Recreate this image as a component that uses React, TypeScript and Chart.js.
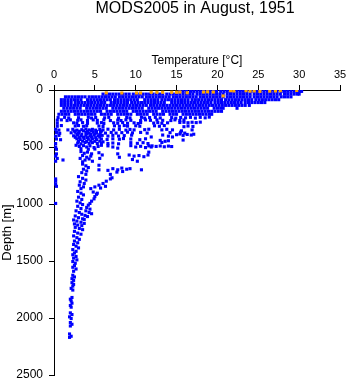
import { useEffect, useRef } from "react";
import { Chart, registerables } from "chart.js";

Chart.register(...registerables);

const TITLE = "MODS2005 in August, 1951";
const X_TITLE = "Temperature [°C]";
const Y_TITLE = "Depth [m]";
const X_MIN = 0;
const X_MAX = 35;
const X_STEP = 5;
const Y_MIN = 0;
const Y_MAX = 2500;
const Y_STEP = 500;

// Dense near-surface band: one depth per row, temperatures read along the row
const bandDepths = [12, 36, 60, 85, 110, 135, 160, 187, 213];
const bandTemps: number[][] = [
  [15.4,15.8,16.2,16.7,17.1,17.5,17.9,18.3,18.7,19.1,19.5,19.9,20.4,20.8,21.2,21.6,22.0,22.4,22.8,23.2,23.6,24.1,24.5,24.9,25.3,25.7,26.1,26.5,26.9,27.3,27.8,28.2,28.6,29.0,29.4,29.8,30.1,30.3],
  [6.0,6.4,6.8,7.2,7.6,8.0,8.4,8.8,9.2,9.7,10.1,10.5,10.9,11.3,11.7,12.1,12.5,12.9,13.3,13.8,14.2,14.6,15.0,15.4,15.8,16.2,16.6,17.0,17.5,17.9,18.3,18.7,19.1,19.5,19.9,20.3,20.7,21.2,21.6,22.0,22.4,22.8,23.2,23.6,24.0,24.5,24.9,25.3,25.7,26.1,26.5,26.9,27.3,27.7,28.2,28.6,29.0,29.4,29.8,30.0],
  [1.4,1.8,2.2,2.6,3.0,3.4,3.8,4.3,4.7,5.1,5.5,5.9,6.3,6.7,7.1,7.5,8.0,8.4,8.8,9.2,9.6,10.0,10.4,10.8,11.3,11.7,12.1,12.5,12.9,13.3,13.7,14.1,14.6,15.0,15.4,15.8,16.2,16.6,17.0,17.4,17.9,18.3,18.7,19.1,19.5,19.9,20.3,20.7,21.2,21.6,22.0,22.4,22.8,23.2,23.6,24.0,24.5,24.9,25.3,25.7,26.1,26.5,26.9,27.3,27.8,28.2,28.6,29.0],
  [0.9,1.3,1.7,2.1,2.5,2.9,3.3,4.1,4.5,4.9,5.3,5.7,6.1,6.5,6.9,7.4,7.8,8.2,8.6,9.0,9.4,9.8,10.2,11.1,11.5,11.9,12.3,12.7,13.2,13.6,14.0,14.4,14.8,15.2,15.6,16.0,16.4,16.9,17.3,17.7,18.1,18.5,18.9,19.3,19.7,20.1,20.5,21.0,21.4,21.8,22.2,22.6,23.0,23.4,23.8,24.2,24.7,25.1,25.5,25.9,26.3,26.7,27.1,27.5],
  [0.9,1.3,1.7,2.1,2.6,3.0,3.4,3.8,4.2,4.6,5.0,5.4,5.8,6.2,7.0,7.4,7.8,8.2,8.6,9.0,9.5,9.9,10.3,10.7,11.1,11.5,11.9,12.3,12.7,13.1,13.5,14.4,14.8,15.2,15.6,16.0,16.4,16.8,17.2,17.6,18.0,18.4,18.8,19.2,19.7,20.1,20.5,20.9,21.3,21.7,22.1,22.5,22.9,23.4,23.8,24.2,24.6,25.0,25.4,25.8],
  [0.9,1.3,1.7,2.1,2.5,2.9,3.3,3.7,4.1,4.5,4.9,5.3,5.7,6.1,6.5,6.9,7.3,7.7,8.1,8.5,8.9,9.3,9.7,10.1,10.5,10.9,11.3,11.8,12.2,12.6,13.0,13.4,13.8,14.2,14.6,15.0,15.4,15.8,16.2,16.6,17.0,17.4,17.8,18.2,18.6,19.0,19.4,19.8,20.2,20.6,21.0,21.4,21.8,22.2,22.6,23.0,23.4,23.9],
  [1.2,1.6,2.0,2.4,2.8,3.2,4.0,4.4,4.8,5.2,5.6,6.0,6.4,7.2,7.6,8.0,8.4,8.8,9.2,9.6,10.0,10.4,10.8,11.6,12.0,12.4,12.8,13.2,13.6,14.0,14.4,14.8,15.2,15.6,16.0,16.4,16.8,17.2,17.6,18.0,18.4,18.8,19.6,20.0,20.4,20.7,22.4],
  [0.9,1.3,1.7,2.1,2.5,2.9,3.3,3.7,4.1,4.5,4.9,5.3,5.7,6.5,6.9,7.3,7.7,8.1,8.5,8.9,9.7,10.1,10.5,10.9,11.3,11.7,12.1,12.5,13.3,13.7,14.1,14.5,14.9,15.3,15.7,16.1,16.5,16.9,17.3,17.7,18.1,18.5,18.9,19.3,19.7,20.1,20.5],
  [0.6,1.0,1.4,1.8,2.6,3.0,3.4,3.8,4.2,4.6,5.0,5.8,6.2,6.6,7.0,7.8,8.2,8.6,9.0,9.4,10.2,10.6,11.0,11.4,12.2,12.6,13.0,13.4,14.2,14.6,15.0,15.8,16.2,16.6,17.0,17.4,17.8,18.2,18.6,19.0,19.3],
];

// [temperature, depth] pairs, 235-500 m
const midLayer: [number, number][] = [
  [0.5,242],[1.3,240],[1.8,245],[3.0,243],[4.2,240],[4.6,246],[5.1,241],[6.2,244],[6.7,240],[7.9,246],[8.9,241],[9.3,245],[10.7,240],[11.1,246],[11.7,242],[12.4,240],[13.0,245],[14.4,242],[14.9,247],[15.5,241],[16.1,244],[16.7,240],[17.3,246],[17.9,240],[18.5,244],[19.0,238],
  [0.4,265],[0.9,262],[1.6,268],[2.0,262],[2.9,266],[3.3,262],[4.1,268],[4.8,262],[5.3,266],[6.1,262],[6.9,268],[7.8,264],[8.2,268],[8.8,262],[9.4,266],[10.6,268],[11.2,262],[11.8,266],[12.6,262],[13.3,266],[14.3,268],[14.8,262],[15.4,268],[15.9,263],
  [0.4,292],[2.4,288],[2.8,292],[3.5,286],[4.1,292],[5.3,290],[5.8,286],[6.1,294],[7.3,288],[7.8,292],[8.4,286],[9.0,292],[9.8,288],[10.3,294],[10.6,286],[12.2,290],[12.7,286],[13.2,292],[13.9,288],[15.4,285],[15.9,283],[16.4,287],[16.9,283],[17.4,286],[17.9,282],
  [0.4,318],[0.9,312],[2.6,316],[3.0,312],[3.6,318],[4.0,313],[5.5,316],[6.0,320],[7.4,314],[8.0,318],[8.6,312],[9.0,317],[10.0,314],[10.5,318],[12.3,314],[12.9,318],[13.5,312],[15.9,322],[16.4,316],[17.0,320],
  [0.2,345],[0.6,352],[1.7,350],[2.3,345],[2.8,352],[3.4,348],[3.9,342],[4.3,350],[4.7,345],[5.1,352],[5.6,346],[6.0,350],[6.6,344],[7.3,350],[8.0,345],[8.8,352],[9.3,346],[9.8,350],[11.1,348],[11.6,344],[13.2,350],[13.8,345],[14.5,350],[16.9,350],[15.6,358],
  [0.3,372],[0.7,380],[2.1,375],[2.6,370],[3.0,378],[3.9,372],[4.3,378],[4.8,370],[5.2,376],[5.7,370],[6.3,378],[7.0,372],[7.6,378],[8.3,374],[9.0,370],[9.6,376],[10.6,372],[11.4,378],[14.2,374],[15.5,370],[16.0,378],
  [0.2,405],[0.6,398],[2.4,402],[2.9,396],[3.3,404],[3.9,398],[4.4,404],[4.9,396],[5.4,402],[5.9,398],[6.6,404],[7.2,398],[7.9,404],[8.6,400],[9.5,396],[11.9,412],[13.3,395],[14.0,405],[14.5,412],[15.0,392],[15.4,386],[15.8,398],[16.3,390],[16.8,395],[17.1,388],[15.8,439],
  [0.3,430],[0.8,436],[2.8,428],[3.2,434],[3.7,426],[4.2,432],[4.7,428],[5.2,436],[5.8,430],[6.5,435],[7.2,428],[8.0,432],[8.5,426],[9.4,430],[10.5,436],[11.2,428],[13.0,442],[13.6,450],[14.0,445],[13.2,460],
  [0.2,470],[2.9,465],[3.3,472],[3.8,460],[4.3,468],[4.7,462],[5.3,470],[5.8,464],[6.6,470],[7.2,465],[7.9,472],[9.4,462],[10.2,468],[10.9,462],[11.5,470],[12.0,490],[12.5,495],[13.0,491],[13.5,498],[14.0,492],[14.4,496],[11.9,500],
  [2.5,360],[3.1,362],[3.6,358],[4.1,362],[4.6,358],[5.2,364],[5.8,360],[2.8,390],[3.4,388],[4.0,385],[4.5,390],[5.0,386],[5.6,390],[2.6,415],[3.1,418],[3.6,414],[4.1,418],[4.6,414],[5.1,418],[5.6,414],[3.0,450],[3.5,448],[4.0,452],[4.5,446],[5.0,450],[5.6,448],[6.0,455],
];

// [temperature, depth] pairs, 480-1050 m (main column, warm branch, cold edge)
const deepUpper: [number, number][] = [
  [2.7,485],[3.1,495],[3.6,488],[4.0,500],[4.4,490],[4.9,505],[5.4,495],[5.8,485],[3.3,515],[4.2,520],[5.0,518],[6.6,490],[7.2,500],[7.8,510],[9.4,488],[10.0,500],[10.6,494],[11.2,505],[11.6,490],[0.2,500],[0.3,520],
  [3.3,540],[3.7,555],[4.1,545],[4.6,560],[3.5,575],[4.0,590],[4.5,580],[3.2,600],[3.8,615],[4.3,605],[4.7,625],[3.5,630],[5.5,550],[5.9,570],[5.6,600],[7.8,560],[8.0,590],[9.2,570],[9.8,580],[10.4,575],[11.0,585],[11.5,570],[9.6,610],[10.2,625],[11.6,545],[0.2,580],[0.4,600],[0.2,625],[1.1,614],[0.3,560],
  [3.5,650],[3.9,665],[4.2,680],[3.6,695],[4.0,710],[3.4,725],[3.9,740],[5.5,660],[5.5,700],[6.6,705],[7.2,690],[7.8,700],[8.3,685],[8.9,695],[7.7,720],[8.4,715],[9.3,690],[10.7,700],[6.9,740],
  [3.0,760],[3.5,775],[3.9,790],[3.2,805],[3.7,820],[3.1,835],[3.6,850],[3.3,865],[4.5,865],[5.0,850],[5.5,835],[6.0,820],[6.4,800],[6.9,780],[7.1,770],[6.3,845],[5.7,860],[0.2,780],[0.2,800],[0.2,825],[0.3,845],
  [2.9,890],[3.3,905],[3.6,920],[3.0,940],[3.4,960],[2.8,975],[3.2,990],[3.5,1005],[2.9,1020],[3.3,1040],[4.8,895],[5.2,915],[5.0,935],[4.9,955],[4.6,975],[4.4,995],[4.2,1010],[4.0,1030],[4.4,1045],[5.3,905],[0.2,995],
];

// [temperature, depth] pairs, below 1050 m
const deepLower: [number, number][] = [
  [2.7,1060],[3.1,1075],[3.4,1090],[2.6,1105],[3.0,1120],[3.5,1130],[2.4,1140],[2.8,1150],[3.3,1160],[3.7,1170],[2.5,1175],[2.9,1185],[3.4,1190],[2.6,1205],[3.1,1215],[3.5,1225],[3.9,1060],[4.3,1075],[4.6,1085],[3.8,1100],[4.1,1110],[3.7,1135],
  [2.5,1240],[2.9,1255],[3.3,1265],[2.4,1280],[2.8,1295],[3.1,1310],[2.5,1325],[2.9,1340],[2.4,1355],[2.7,1370],[3.0,1385],[2.3,1400],[2.7,1415],[2.5,1430],
  [2.3,1445],[2.7,1460],[2.4,1475],[2.8,1490],[2.3,1505],[2.6,1520],[2.5,1540],[2.3,1555],[2.7,1570],[2.4,1590],[2.3,1625],[2.5,1640],[2.2,1655],[2.4,1670],
  [2.2,1690],[2.4,1705],[2.3,1720],[2.1,1740],[2.3,1755],[2.2,1820],[2.0,1835],[2.1,1850],[2.2,1870],[2.0,1890],[2.1,1905],
  [2.0,1955],[2.2,1970],[1.9,1990],[2.1,2005],[2.0,2040],[2.2,2055],[2.0,2070],[1.9,2140],[2.1,2160],[1.9,2170],
];

// Orange (flagged) surface observations, [temperature, depth]
const orangePoints: [number, number][] = [
  [6.4,25],[8.3,26],[10.1,26],[10.6,26],[11.9,20],[12.6,20],[13.3,20],[14.4,20],[15.0,20],[15.4,18],[16.3,24],[18.3,18],[18.8,16],[19.5,18],[20.7,52],[21.6,6],[22.0,8],[23.5,6],[24.0,10],[24.5,8],[25.2,12],[26.4,10],[27.1,8],[27.7,6],[29.7,4],
];

const FONT = '"Liberation Sans", Arial, Helvetica, sans-serif';

export default function App() {
  const ref = useRef<HTMLCanvasElement | null>(null);

  useEffect(() => {
    if (!ref.current) return;
    const toXY = (p: [number, number]) => ({ x: p[0], y: p[1] });
    const blue: { x: number; y: number }[] = [];
    bandDepths.forEach((d, i) => bandTemps[i].forEach((t) => blue.push({ x: t, y: d })));
    [midLayer, deepUpper, deepLower].forEach((arr) => arr.forEach((p) => blue.push(toXY(p))));
    const orange = orangePoints.map(toXY);

    const titlePlugin = {
      id: "mainTitle",
      afterDraw(chart: any) {
        const { ctx, chartArea } = chart;
        ctx.save();
        ctx.fillStyle = "#000";
        ctx.font = `16px ${FONT}`;
        ctx.textAlign = "center";
        ctx.textBaseline = "middle";
        ctx.fillText(TITLE, (chartArea.left + chartArea.right) / 2 - 2, 9);
        ctx.restore();
      },
    };

    const pointOpts = { pointStyle: "rect", pointRadius: 2.2, pointHoverRadius: 2.2, borderWidth: 0, pointBorderWidth: 0 };
    const plain = (v: any) => String(v);

    const chart = new Chart(ref.current, {
      type: "scatter",
      data: {
        datasets: [
          { data: orange, backgroundColor: "#FFA500", pointBackgroundColor: "#FFA500", ...pointOpts } as any,
          { data: blue, backgroundColor: "#0000FF", pointBackgroundColor: "#0000FF", ...pointOpts } as any,
        ],
      },
      options: {
        animation: false,
        responsive: false,
        devicePixelRatio: 1,
        events: [],
        layout: { padding: { left: 0, top: 53, right: 8, bottom: 9 } },
        plugins: { legend: { display: false }, tooltip: { enabled: false }, title: { display: false } },
        scales: {
          x: {
            type: "linear",
            position: "top",
            min: X_MIN,
            max: X_MAX,
            ticks: { stepSize: X_STEP, color: "#000", font: { family: FONT, size: 11 }, padding: 3, maxRotation: 0, callback: plain },
            grid: { display: true, drawOnChartArea: false, drawTicks: true, tickLength: 5, color: "#000", lineWidth: 1 },
            border: { display: true, color: "#000", width: 1 },
            title: { display: true, text: X_TITLE, color: "#000", font: { family: FONT, size: 12 }, padding: { top: 0, bottom: 0 } },
            afterFit: (s: any) => { s.height = 37; s.paddingLeft = 0; s.paddingRight = 0; },
          },
          y: {
            type: "linear",
            reverse: true,
            min: Y_MIN,
            max: Y_MAX,
            ticks: { stepSize: Y_STEP, color: "#000", font: { family: FONT, size: 12 }, padding: 6, callback: plain },
            grid: { display: true, drawOnChartArea: false, drawTicks: true, tickLength: 5, color: "#000", lineWidth: 1 },
            border: { display: true, color: "#000", width: 1 },
            title: { display: true, text: Y_TITLE, color: "#000", font: { family: FONT, size: 13 }, padding: { top: 0, bottom: 0 } },
            afterFit: (s: any) => { s.width = 54; s.paddingTop = 0; s.paddingBottom = 0; },
          },
        },
      } as any,
      plugins: [titlePlugin],
    });
    return () => chart.destroy();
  }, []);

  return (
    <div style={{ position: "absolute", left: 0, top: 0, width: 348, height: 384, background: "#fff" }}>
      <canvas ref={ref} width={348} height={384} style={{ display: "block", width: 348, height: 384 }} />
    </div>
  );
}
